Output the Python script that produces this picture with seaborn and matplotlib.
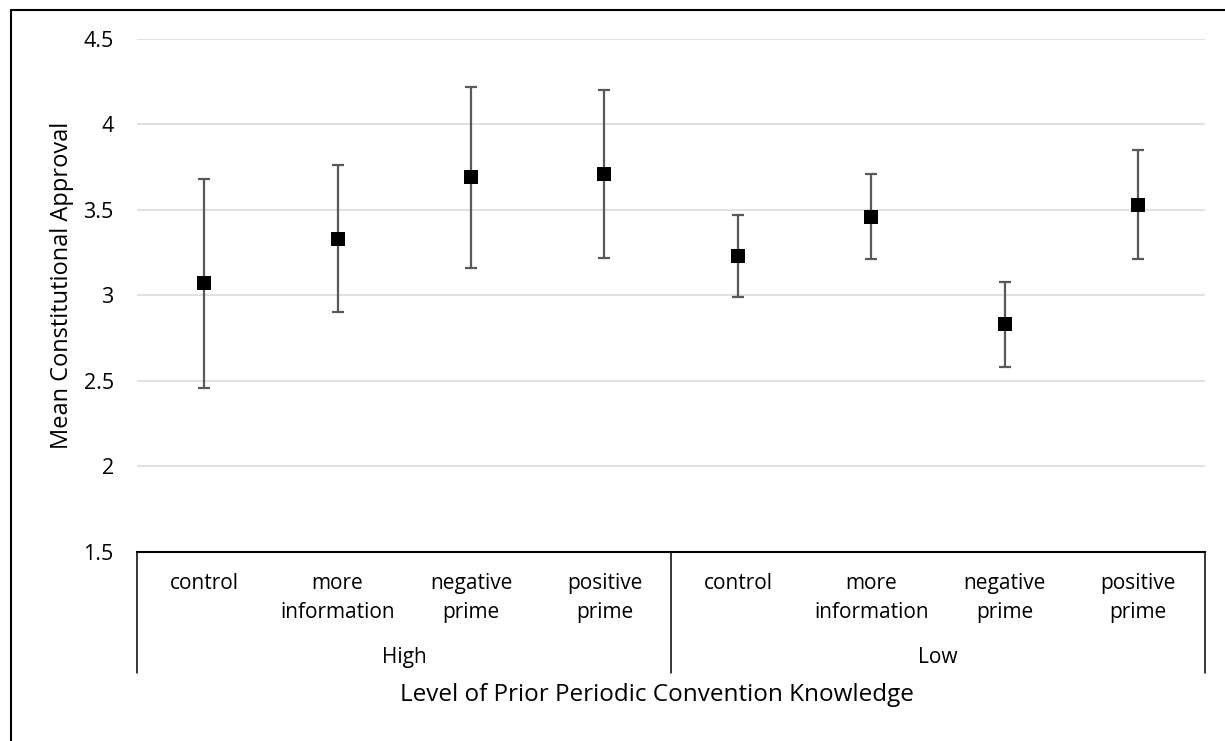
import matplotlib
matplotlib.use("Agg")
import matplotlib.pyplot as plt
import matplotlib.transforms as mtransforms
from matplotlib.lines import Line2D
import pandas as pd
import seaborn as sns

# dados
grupos = ["High", "Low"]
condicoes = ["control", "more information", "negative prime", "positive prime"]
rotulos = ["control", "more\ninformation", "negative\nprime", "positive\nprime"]
media_high = [3.07, 3.33, 3.69, 3.71]
erro_high = [0.61, 0.43, 0.53, 0.49]
media_low = [3.23, 3.46, 2.83, 3.53]
erro_low = [0.24, 0.25, 0.25, 0.32]

sns.set_style("white")
plt.rcParams["font.family"] = ["Open Sans", "DejaVu Sans"]
plt.rcParams["text.color"] = "black"
plt.rcParams["axes.labelcolor"] = "black"
plt.rcParams["xtick.color"] = "black"
plt.rcParams["ytick.color"] = "black"

df = pd.DataFrame({
    "grupo": [g for g in grupos for _ in condicoes],
    "condicao": condicoes * 2,
    "media": media_high + media_low,
    "erro": erro_high + erro_low,
})
df["chave"] = df["grupo"] + " | " + df["condicao"]
ordem = list(df["chave"])

fig = plt.figure(figsize=(12.25, 7.41), dpi=100)
ax = fig.add_axes([0.1121, 0.2555, 0.8716, 0.6919])

ax.errorbar(x=range(len(df)), y=df["media"], yerr=df["erro"], fmt="none",
            ecolor="#595959", elinewidth=1.6, capsize=4.3, capthick=1.6, zorder=2)
sns.pointplot(data=df, x="chave", y="media", order=ordem, errorbar=None,
              color="black", marker="s", markersize=10, markeredgewidth=0,
              linestyle="none", ax=ax, zorder=3)

ax.set_xlim(-0.5, len(df) - 0.5)
ax.set_ylim(1.5, 4.5)
ax.set_yticks([1.5, 2, 2.5, 3, 3.5, 4, 4.5])
ax.set_yticklabels(["1.5", "2", "2.5", "3", "3.5", "4", "4.5"])
ax.yaxis.grid(True, color="#d9d9d9", linewidth=1.1)
ax.set_axisbelow(True)

ax.set_xticks(range(len(df)))
ax.set_xticklabels(rotulos * 2, linespacing=1.55)
ax.tick_params(axis="x", length=0, pad=15, labelsize=15)
ax.tick_params(axis="y", length=0, pad=17, labelsize=15.5)

for lado in ["left", "right", "top"]:
    ax.spines[lado].set_visible(False)
ax.spines["bottom"].set_color("black")
ax.spines["bottom"].set_linewidth(1.5)

# eixo de categorias em dois niveis
trans = mtransforms.blended_transform_factory(ax.transData, ax.transAxes)
for xs in [-0.5, 3.5, 7.5]:
    ax.plot([xs, xs], [0, -0.237], transform=trans, color="black",
            linewidth=1.1, clip_on=False)
for i, g in enumerate(grupos):
    ax.text(i * 4 + 1.5, -0.207, g, transform=trans, ha="center", va="center",
            fontsize=15)

ax.set_ylabel("Mean Constitutional Approval", fontsize=17, va="center")
ax.yaxis.set_label_coords(-0.0705, 0.52)
ax.set_xlabel("Level of Prior Periodic Convention Knowledge", fontsize=17.5, va="center")
ax.xaxis.set_label_coords(0.4868, -0.2795)

# moldura do grafico
y_top = 1 - 9.5 / 741
x_left = 11 / 1225
fig.add_artist(Line2D([x_left, x_left], [0, y_top], color="black", linewidth=1.5))
fig.add_artist(Line2D([x_left, 1], [y_top, y_top], color="black", linewidth=1.5))

fig.savefig("out.png", dpi=100, facecolor="white")
